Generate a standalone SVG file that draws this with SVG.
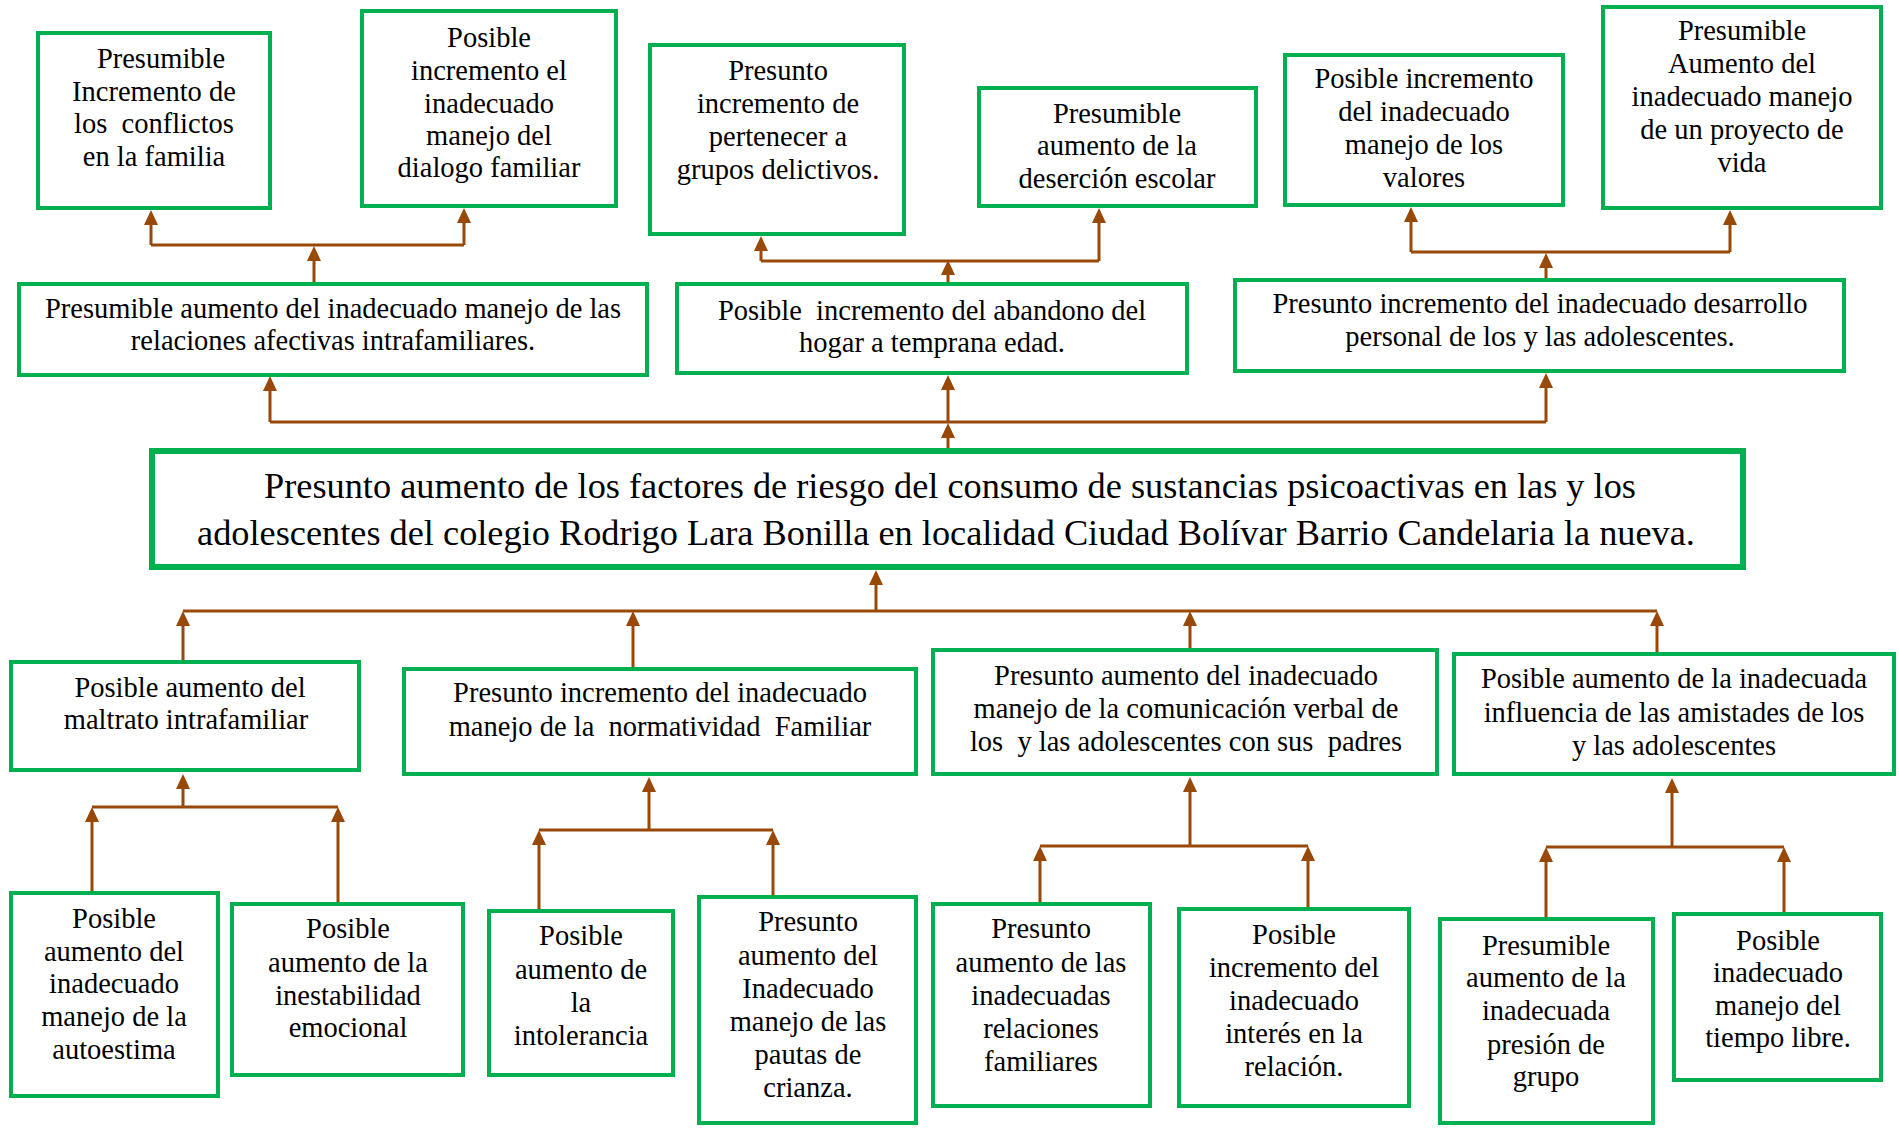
<svg xmlns="http://www.w3.org/2000/svg" width="1899" height="1128" viewBox="0 0 1899 1128">
<style>
.box{fill:#fff;stroke:#00B050;stroke-width:4}
.main{fill:#fff;stroke:#00B050;stroke-width:6}
.t{font-family:"Liberation Serif","Times New Roman",serif;font-size:28.5px;fill:#000;text-anchor:middle;white-space:pre}
.tm{font-family:"Liberation Serif","Times New Roman",serif;font-size:36.3px;fill:#000;text-anchor:middle;white-space:pre}
.c{fill:none;stroke:#984807;stroke-width:3}
.a{fill:none;stroke:#984807;stroke-width:3;marker-end:url(#ah)}
</style>
<defs>
<marker id="ah" viewBox="0 0 15 14" markerWidth="15" markerHeight="14" refX="7" refY="7" orient="auto" markerUnits="userSpaceOnUse">
<path d="M0,0 L15,7 L0,14 Z" fill="#984807"/>
</marker>
</defs>
<rect width="1899" height="1128" fill="#fff"/>
<g id="connectors">
<path class="a" d="M948,448 V431"/>
<path class="c" d="M270,422 H1546"/>
<path class="a" d="M270,422 V384"/>
<path class="a" d="M948,422 V383"/>
<path class="a" d="M1546,422 V381"/>
<path class="a" d="M314,282 V254"/>
<path class="c" d="M151,245 H464"/>
<path class="a" d="M151,245 V218"/>
<path class="a" d="M464,245 V216"/>
<path class="a" d="M948,282 V268"/>
<path class="c" d="M761,261 H1099"/>
<path class="a" d="M761,261 V244"/>
<path class="a" d="M1099,261 V216"/>
<path class="a" d="M1546,278 V261"/>
<path class="c" d="M1411,252 H1730"/>
<path class="a" d="M1411,252 V215"/>
<path class="a" d="M1730,252 V218"/>
<path class="a" d="M876,611 V578"/>
<path class="c" d="M183,611 H1657"/>
<path class="a" d="M183,660 V619"/>
<path class="a" d="M633,667 V619"/>
<path class="a" d="M1190,648 V619"/>
<path class="a" d="M1657,652 V619"/>
<path class="a" d="M183,807 V782"/>
<path class="c" d="M92,807 H338"/>
<path class="a" d="M92,891 V815"/>
<path class="a" d="M338,902 V815"/>
<path class="a" d="M649,830 V785"/>
<path class="c" d="M539,830 H773"/>
<path class="a" d="M539,909 V838"/>
<path class="a" d="M773,895 V838"/>
<path class="a" d="M1190,846 V785"/>
<path class="c" d="M1040,846 H1308"/>
<path class="a" d="M1040,902 V854"/>
<path class="a" d="M1308,907 V854"/>
<path class="a" d="M1672,847 V786"/>
<path class="c" d="M1546,847 H1784"/>
<path class="a" d="M1546,917 V855"/>
<path class="a" d="M1784,912 V855"/>
</g>
<g id="central">
<rect class="main" x="152" y="451" width="1591" height="116"/>
<text class="tm" x="950" y="498">Presunto aumento de los factores de riesgo del consumo de sustancias psicoactivas en las y los</text>
<text class="tm" x="946" y="545">adolescentes del colegio Rodrigo Lara Bonilla en localidad Ciudad Bolívar Barrio Candelaria la nueva.</text>
</g>
<g id="nodeA">
<rect class="box" x="19" y="284" width="628" height="91"/>
<text class="t" x="333" y="318">Presumible aumento del inadecuado manejo de las</text>
<text class="t" x="333" y="350">relaciones afectivas intrafamiliares.</text>
</g>
<g id="nodeB">
<rect class="box" x="677" y="284" width="510" height="89"/>
<text class="t" x="932" y="320">Posible  incremento del abandono del</text>
<text class="t" x="932" y="352">hogar a temprana edad.</text>
</g>
<g id="nodeC">
<rect class="box" x="1235" y="280" width="609" height="91"/>
<text class="t" x="1540" y="313">Presunto incremento del inadecuado desarrollo</text>
<text class="t" x="1540" y="346">personal de los y las adolescentes.</text>
</g>
<g id="nodeA1">
<rect class="box" x="38" y="33" width="232" height="175"/>
<text class="t" x="161" y="68">Presumible</text>
<text class="t" x="154" y="101">Incremento de</text>
<text class="t" x="154" y="133">los  conflictos</text>
<text class="t" x="154" y="166">en la familia</text>
</g>
<g id="nodeA2">
<rect class="box" x="362" y="11" width="254" height="195"/>
<text class="t" x="489" y="47">Posible</text>
<text class="t" x="489" y="80">incremento el</text>
<text class="t" x="489" y="113">inadecuado</text>
<text class="t" x="489" y="145">manejo del</text>
<text class="t" x="489" y="177">dialogo familiar</text>
</g>
<g id="nodeB1">
<rect class="box" x="650" y="45" width="254" height="189"/>
<text class="t" x="778" y="80">Presunto</text>
<text class="t" x="778" y="113">incremento de</text>
<text class="t" x="778" y="146">pertenecer a</text>
<text class="t" x="778" y="179">grupos delictivos.</text>
</g>
<g id="nodeB2">
<rect class="box" x="979" y="88" width="277" height="118"/>
<text class="t" x="1117" y="123">Presumible</text>
<text class="t" x="1117" y="155">aumento de la</text>
<text class="t" x="1117" y="188">deserción escolar</text>
</g>
<g id="nodeC1">
<rect class="box" x="1285" y="55" width="278" height="150"/>
<text class="t" x="1424" y="88">Posible incremento</text>
<text class="t" x="1424" y="121">del inadecuado</text>
<text class="t" x="1424" y="154">manejo de los</text>
<text class="t" x="1424" y="187">valores</text>
</g>
<g id="nodeC2">
<rect class="box" x="1603" y="7" width="278" height="201"/>
<text class="t" x="1742" y="40">Presumible</text>
<text class="t" x="1742" y="73">Aumento del</text>
<text class="t" x="1742" y="106">inadecuado manejo</text>
<text class="t" x="1742" y="139">de un proyecto de</text>
<text class="t" x="1742" y="172">vida</text>
</g>
<g id="nodeD1">
<rect class="box" x="11" y="662" width="348" height="108"/>
<text class="t" x="190" y="697">Posible aumento del</text>
<text class="t" x="186" y="729">maltrato intrafamiliar</text>
</g>
<g id="nodeD2">
<rect class="box" x="404" y="669" width="512" height="105"/>
<text class="t" x="660" y="702">Presunto incremento del inadecuado</text>
<text class="t" x="660" y="736">manejo de la  normatividad  Familiar</text>
</g>
<g id="nodeD3">
<rect class="box" x="933" y="650" width="504" height="124"/>
<text class="t" x="1186" y="685">Presunto aumento del inadecuado</text>
<text class="t" x="1186" y="718">manejo de la comunicación verbal de</text>
<text class="t" x="1186" y="751">los  y las adolescentes con sus  padres</text>
</g>
<g id="nodeD4">
<rect class="box" x="1454" y="654" width="440" height="120"/>
<text class="t" x="1674" y="688">Posible aumento de la inadecuada</text>
<text class="t" x="1674" y="722">influencia de las amistades de los</text>
<text class="t" x="1674" y="755">y las adolescentes</text>
</g>
<g id="nodeE1">
<rect class="box" x="11" y="893" width="207" height="203"/>
<text class="t" x="114" y="928">Posible</text>
<text class="t" x="114" y="961">aumento del</text>
<text class="t" x="114" y="993">inadecuado</text>
<text class="t" x="114" y="1026">manejo de la</text>
<text class="t" x="114" y="1059">autoestima</text>
</g>
<g id="nodeE2">
<rect class="box" x="232" y="904" width="231" height="171"/>
<text class="t" x="348" y="938">Posible</text>
<text class="t" x="348" y="972">aumento de la</text>
<text class="t" x="348" y="1005">inestabilidad</text>
<text class="t" x="348" y="1037">emocional</text>
</g>
<g id="nodeE3">
<rect class="box" x="489" y="911" width="184" height="164"/>
<text class="t" x="581" y="945">Posible</text>
<text class="t" x="581" y="979">aumento de</text>
<text class="t" x="581" y="1012">la</text>
<text class="t" x="581" y="1045">intolerancia</text>
</g>
<g id="nodeE4">
<rect class="box" x="699" y="897" width="217" height="226"/>
<text class="t" x="808" y="931">Presunto</text>
<text class="t" x="808" y="965">aumento del</text>
<text class="t" x="808" y="998">Inadecuado</text>
<text class="t" x="808" y="1031">manejo de las</text>
<text class="t" x="808" y="1064">pautas de</text>
<text class="t" x="808" y="1097">crianza.</text>
</g>
<g id="nodeE5">
<rect class="box" x="933" y="904" width="217" height="202"/>
<text class="t" x="1041" y="938">Presunto</text>
<text class="t" x="1041" y="972">aumento de las</text>
<text class="t" x="1041" y="1005">inadecuadas</text>
<text class="t" x="1041" y="1038">relaciones</text>
<text class="t" x="1041" y="1071">familiares</text>
</g>
<g id="nodeE6">
<rect class="box" x="1179" y="909" width="230" height="197"/>
<text class="t" x="1294" y="944">Posible</text>
<text class="t" x="1294" y="977">incremento del</text>
<text class="t" x="1294" y="1010">inadecuado</text>
<text class="t" x="1294" y="1043">interés en la</text>
<text class="t" x="1294" y="1076">relación.</text>
</g>
<g id="nodeE7">
<rect class="box" x="1440" y="919" width="213" height="204"/>
<text class="t" x="1546" y="955">Presumible</text>
<text class="t" x="1546" y="987">aumento de la</text>
<text class="t" x="1546" y="1020">inadecuada</text>
<text class="t" x="1546" y="1054">presión de</text>
<text class="t" x="1546" y="1086">grupo</text>
</g>
<g id="nodeE8">
<rect class="box" x="1674" y="914" width="207" height="166"/>
<text class="t" x="1778" y="950">Posible</text>
<text class="t" x="1778" y="982">inadecuado</text>
<text class="t" x="1778" y="1015">manejo del</text>
<text class="t" x="1778" y="1047">tiempo libre.</text>
</g>
</svg>
